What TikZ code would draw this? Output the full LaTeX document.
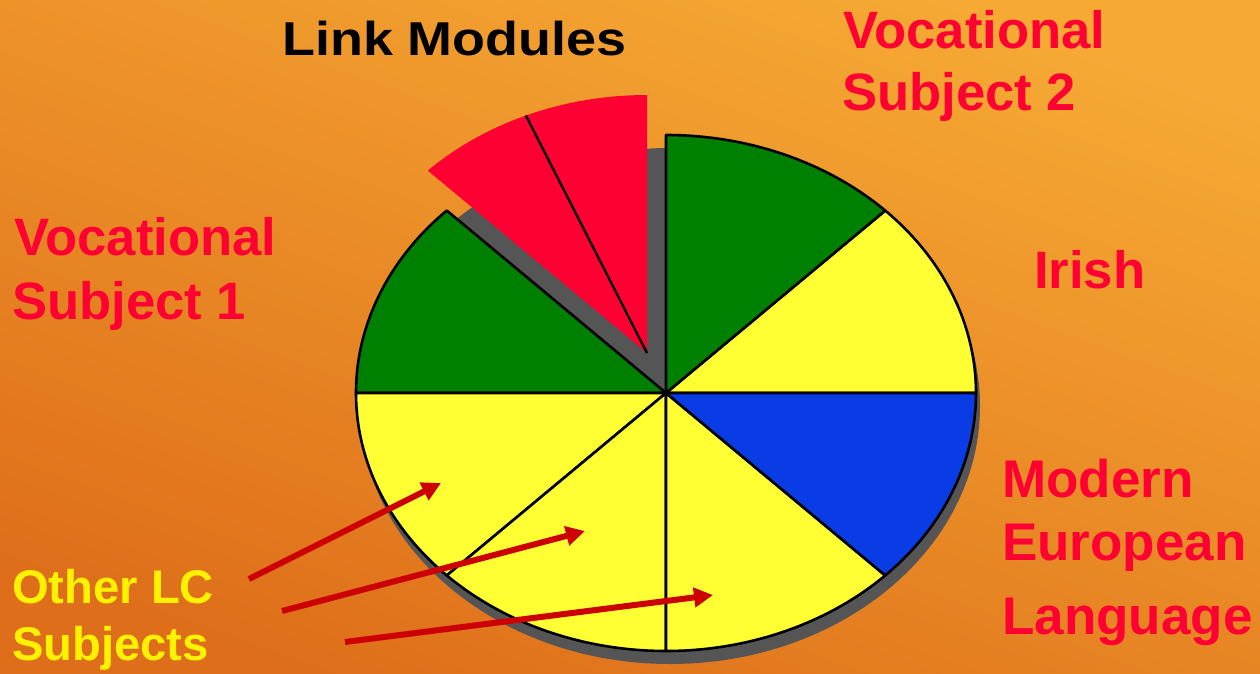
\documentclass[tikz,border=0pt]{standalone}
\usepackage{fontspec}
\setmainfont{Liberation Sans}
\usetikzlibrary{arrows.meta}
\definecolor{bgtop}{RGB}{246,170,52}
\definecolor{bgbot}{RGB}{222,110,26}
\definecolor{pgreen}{RGB}{0,128,0}
\definecolor{pyellow}{RGB}{255,255,51}
\definecolor{pblue}{RGB}{10,60,230}
\definecolor{pred}{RGB}{255,0,51}
\definecolor{pshadow}{RGB}{85,85,85}
\definecolor{arrowred}{RGB}{204,0,0}
\newcommand\pieSlice[4]{%
  \path[#4] (#1) -- ++({310*cos(#2)},{-258*sin(#2)})
    arc[start angle=-#2, end angle=-#3, x radius=310, y radius=258] -- cycle;}
\tikzset{
  slicebox/.style={draw=black, line width=2.6pt, line join=round},
  bigtext/.style={inner sep=0pt, anchor=base west, font=\fontsize{52.6}{60}\selectfont\bfseries},
  midtext/.style={inner sep=0pt, anchor=base west, font=\fontsize{53}{60}\selectfont\bfseries},
  smalltext/.style={inner sep=0pt, anchor=base west, font=\fontsize{47.2}{54}\selectfont\bfseries},
  pointer/.style={draw=arrowred, line width=6pt, -{Triangle[length=19pt,width=19pt]}}
}
\begin{document}
\begin{tikzpicture}[x=1pt,y=-1pt]
\useasboundingbox (0,0) rectangle (1260,673);
\shade[top color=bgtop,bottom color=bgbot,shading angle=-20] (-20,-20) rectangle (1280,693);
\coordinate (C) at (666,393);
\coordinate (S) at (670,406);
\coordinate (R) at (647,353);
% shadow
\fill[pshadow] (S) ellipse[x radius=310, y radius=258];
% slices
\pieSlice{C}{0}{45}{fill=pyellow, slicebox}
\pieSlice{C}{45}{90}{fill=pgreen, slicebox}
\pieSlice{C}{135}{180}{fill=pgreen, slicebox}
\pieSlice{C}{180}{225}{fill=pyellow, slicebox}
\pieSlice{C}{225}{270}{fill=pyellow, slicebox}
\pieSlice{C}{270}{315}{fill=pyellow, slicebox}
\pieSlice{C}{315}{360}{fill=pblue, slicebox}
% exploded slice
\pieSlice{R}{90}{135}{fill=pred}
\draw[line width=2.4pt] (R) -- ++({310*cos(113)},{-258*sin(113)});
% labels
\node[inner sep=0pt, anchor=base west, font=\fontsize{47.5}{54}\selectfont\bfseries] (lm) at (282,55) {\scalebox{1.135}[1]{Link Modules}};
\node[bigtext, text=pred] (voc2a) at (843,48) {Vocational};
\node[bigtext, text=pred] (voc2b) at (842,110) {Subject 2};
\node[bigtext, text=pred] (voc1a) at (14,255) {Vocational};
\node[bigtext, text=pred] (voc1b) at (12,319) {Subject 1};
\node[bigtext, text=pred] (irish) at (1034,288) {Irish};
\node[midtext, text=pred] (mela) at (1002,497) {Modern};
\node[midtext, text=pred] (melb) at (1002,560) {European};
\node[midtext, text=pred] (melc) at (1002,634) {Language};
\node[smalltext, text=yellow] (otha) at (12,603) {Other LC};
\node[smalltext, text=yellow] (othb) at (12,660) {Subjects};
% arrows
\coordinate (a1s) at (249,579);
\coordinate (a1e) at (441,483);
\coordinate (a2s) at (282,611);
\coordinate (a2e) at (585,531);
\coordinate (a3s) at (345,642);
\coordinate (a3e) at (713,595);
\draw[pointer] (a1s) -- (a1e);
\draw[pointer] (a2s) -- (a2e);
\draw[pointer] (a3s) -- (a3e);
\end{tikzpicture}
\end{document}
